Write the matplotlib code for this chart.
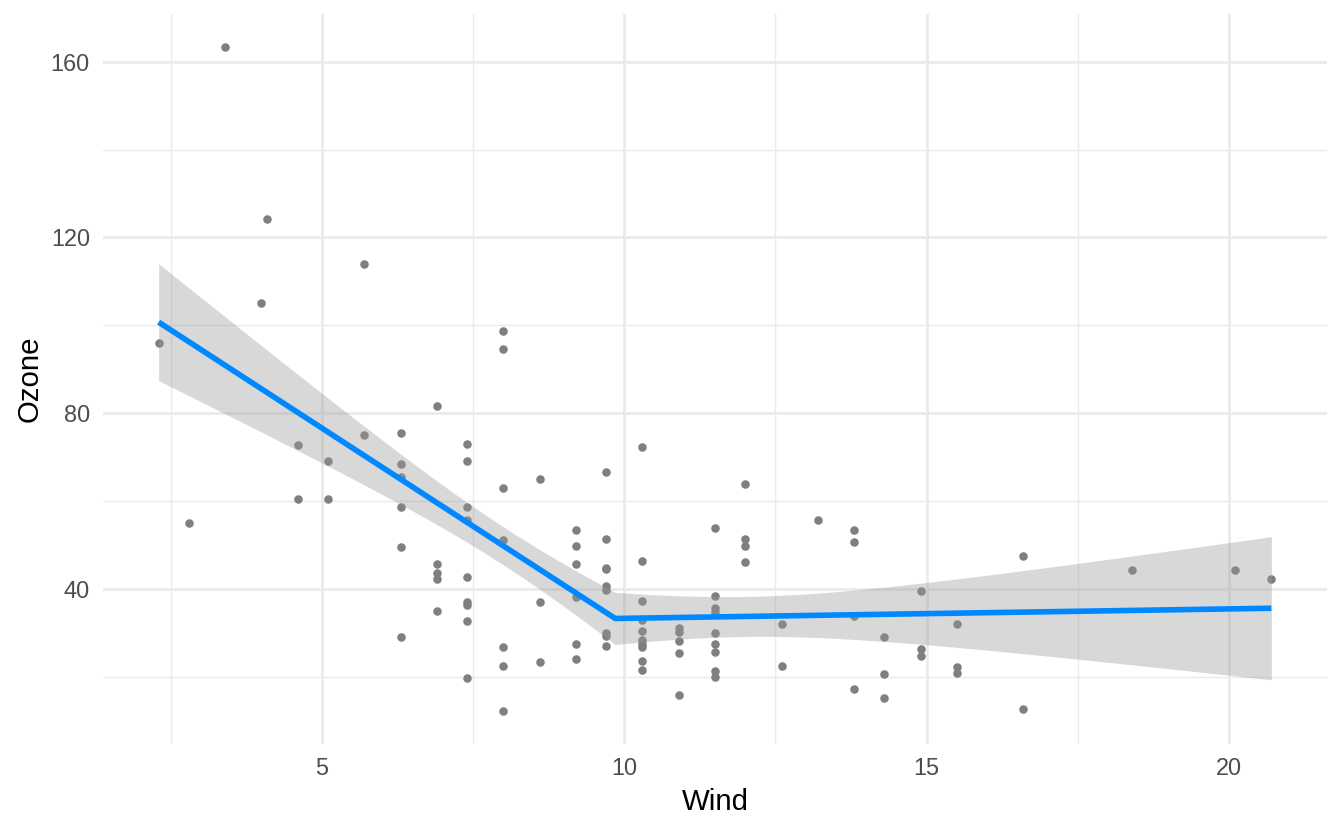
import numpy as np
import matplotlib
matplotlib.use("Agg")
import matplotlib.pyplot as plt

# Wind / Ozone points, grouped by wind value
wind = [2.3, 2.8, 3.4, 4.0, 4.1,
        4.6, 4.6, 5.1, 5.1, 5.7, 5.7,
        6.3, 6.3, 6.3, 6.3, 6.3, 6.3,
        6.9, 6.9, 6.9, 6.9, 6.9,
        7.4, 7.4, 7.4, 7.4, 7.4, 7.4, 7.4, 7.4, 7.4,
        8.0, 8.0, 8.0, 8.0, 8.0, 8.0, 8.0,
        8.6, 8.6, 8.6,
        9.2, 9.2, 9.2, 9.2, 9.2, 9.2,
        9.7, 9.7, 9.7, 9.7, 9.7, 9.7, 9.7, 9.7, 9.7,
        10.3, 10.3, 10.3, 10.3, 10.3, 10.3, 10.3, 10.3, 10.3, 10.3,
        10.9, 10.9, 10.9, 10.9, 10.9,
        11.5, 11.5, 11.5, 11.5, 11.5, 11.5, 11.5, 11.5, 11.5,
        12.0, 12.0, 12.0, 12.0,
        12.6, 12.6, 13.2,
        13.8, 13.8, 13.8, 13.8,
        14.3, 14.3, 14.3,
        14.9, 14.9, 14.9,
        15.5, 15.5, 15.5,
        16.6, 16.6, 18.4, 20.1, 20.7]
ozone = [96.1, 55.1, 163.3, 105.2, 124.3,
         72.7, 60.4, 69.1, 60.5, 114.0, 75.1,
         75.4, 68.4, 65.4, 58.7, 49.5, 29.0,
         81.7, 45.6, 43.6, 42.2, 35.0,
         73.1, 69.1, 58.7, 55.8, 42.7, 37.1, 36.4, 32.8, 19.7,
         98.7, 94.6, 62.9, 51.2, 26.8, 22.5, 12.3,
         65.1, 37.1, 23.5,
         53.5, 49.7, 45.7, 38.3, 27.6, 24.2,
         66.6, 51.3, 44.9, 44.5, 40.7, 39.9, 29.9, 29.3, 27.1,
         72.4, 46.5, 37.4, 33.0, 30.4, 28.4, 27.5, 26.9, 23.7, 21.5,
         31.2, 30.3, 28.2, 25.4, 16.0,
         54.0, 38.5, 35.6, 34.8, 29.9, 27.4, 25.7, 21.3, 20.0,
         63.9, 51.3, 49.9, 46.1,
         32.1, 22.5, 55.7,
         53.4, 50.8, 33.9, 17.3,
         29.1, 20.6, 15.2,
         39.6, 26.3, 24.8,
         32.1, 22.2, 20.8,
         47.5, 12.7, 44.3, 44.3, 42.2]

breakpoint = 9.85
x_ticks = [5, 10, 15, 20]
y_ticks = [40, 80, 120, 160]

x = np.array(wind)
y = np.array(ozone)


def design(v):
    return np.column_stack([np.ones_like(v), v, np.maximum(v - breakpoint, 0)])


# segmented linear fit with 95% confidence band
X = design(x)
beta, *_ = np.linalg.lstsq(X, y, rcond=None)
resid = y - X @ beta
dof = len(y) - X.shape[1]
sigma2 = resid @ resid / dof
cov = sigma2 * np.linalg.inv(X.T @ X)
grid = np.sort(np.append(np.linspace(x.min(), x.max(), 200), breakpoint))
G = design(grid)
fit = G @ beta
se = np.sqrt(np.einsum("ij,jk,ik->i", G, cov, G))
tq = 1.981
lo, hi = fit - tq * se, fit + tq * se

plt.rcParams["font.family"] = ["Liberation Sans", "DejaVu Sans"]
fig = plt.figure(figsize=(7.0, 830 / 192), dpi=192)
ax = fig.add_axes([103 / 1344, 1 - 744 / 830, 1224 / 1344, 730 / 830])

ax.scatter(x, y, s=3.2 ** 2, color="#7f7f7f", linewidths=0, zorder=3)
ax.fill_between(grid, lo, hi, color="#999999", alpha=0.38, linewidth=0, zorder=4)
ax.plot(grid, fit, color="#0088ff", linewidth=2.1, zorder=5, solid_capstyle="butt")

xr = x.max() - x.min()
yr = y.max() - y.min()
ax.set_xlim(x.min() - 0.05 * xr, x.max() + 0.05 * xr)
ax.set_ylim(y.min() - 0.05 * yr, y.max() + 0.05 * yr)

ax.set_xticks(x_ticks)
ax.set_yticks(y_ticks)
ax.set_xticks([2.5, 7.5, 12.5, 17.5], minor=True)
ax.set_yticks([20, 60, 100, 140], minor=True)
ax.grid(True, which="major", color="#ebebeb", linewidth=1.07)
ax.grid(True, which="minor", color="#ebebeb", linewidth=0.53)
ax.set_axisbelow(True)
for s in ax.spines.values():
    s.set_visible(False)
ax.tick_params(which="both", length=0, pad=4.95, labelsize=8.8, labelcolor="#4d4d4d")

ax.set_xlabel("Wind", fontsize=11, labelpad=2.75)
ax.set_ylabel("Ozone", fontsize=11, labelpad=2.75)

fig.savefig("out.png", dpi=192)
